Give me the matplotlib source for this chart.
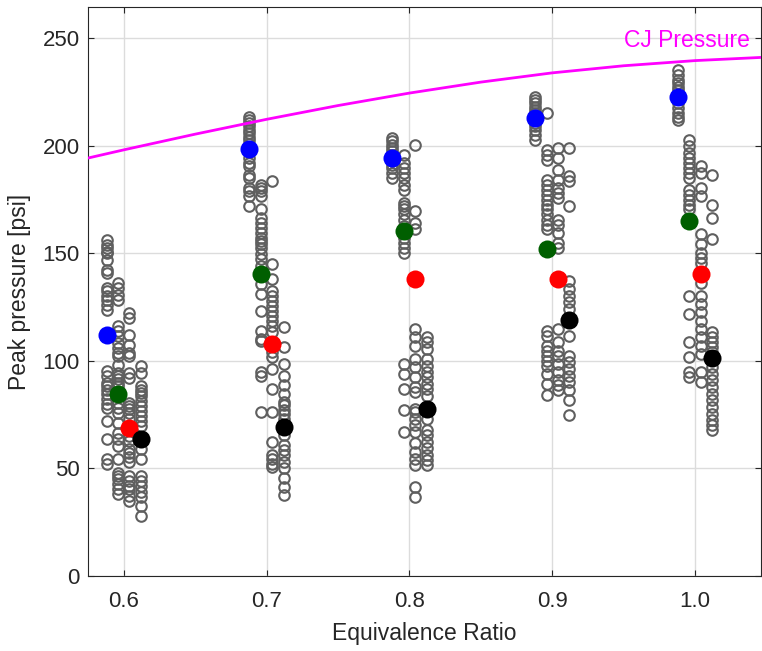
import numpy as np
import matplotlib
matplotlib.use('Agg')
import matplotlib.pyplot as plt

plt.rcParams['font.family'] = ['Liberation Sans', 'DejaVu Sans']

# equivalence ratios tested
phis = [0.6, 0.7, 0.8, 0.9, 1.0]

# peak pressures [psi], one dict per transducer position (columns left->right)
pos1 = {
    0.6: [156.2, 153.9, 152.3, 150.8, 150.0, 146.9, 142.3, 140.7, 133.8, 132.3, 130.0, 128.4, 126.0, 123.8,
          95.2, 92.9, 89.8, 88.3, 86.7, 84.4, 82.1, 79.8, 78.2, 72.1, 63.6, 54.3, 52.0],
    0.7: [213.6, 212.0, 210.5, 209.0, 207.4, 205.9, 204.3, 202.8, 201.0, 199.0, 197.0, 194.3, 192.0, 190.4,
          186.6, 185.0, 180.4, 178.9, 176.5, 172.2],
    0.8: [203.5, 202.0, 200.5, 198.9, 197.4, 195.8, 192.7, 191.2, 189.7, 187.3, 185.0],
    0.9: [222.8, 221.3, 219.8, 218.2, 216.7, 215.1, 210.5, 209.0, 207.4, 205.1, 202.8],
    1.0: [235.2, 232.9, 230.6, 229.0, 227.5, 225.9, 219.8, 217.4, 215.1, 213.6, 212.0],
}
pos2 = {
    0.6: [136.1, 133.8, 130.7, 128.4, 116.0, 113.7, 111.4, 108.3, 106.0, 103.7, 102.2, 98.3, 94.4, 92.9,
          91.4, 89.8, 88.3, 80.6, 78.2, 75.9, 71.3, 66.7, 63.6, 60.5, 54.3, 48.1, 46.6, 45.1, 42.7, 40.4, 38.1],
    0.7: [181.9, 180.4, 178.9, 176.5, 170.4, 166.5, 164.2, 161.9, 159.6, 157.3, 155.7, 154.2, 152.6, 149.5,
          147.2, 144.1, 135.6, 131.0, 123.3, 114.0, 110.2, 109.4, 94.8, 93.2, 76.2],
    0.8: [195.8, 192.0, 189.7, 187.3, 185.0, 181.9, 179.6, 173.5, 171.9, 170.4, 168.1, 165.7, 162.7, 157.3,
          154.9, 152.6, 150.3, 98.6, 94.0, 87.0, 77.0, 67.0],
    0.9: [215.1, 198.1, 195.8, 193.5, 184.3, 181.9, 179.6, 177.3, 175.0, 172.7, 170.4, 168.1, 165.7, 163.4,
          161.1, 114.0, 111.7, 107.1, 104.8, 102.5, 100.0, 97.8, 94.0, 89.4, 84.0],
    1.0: [202.8, 199.7, 196.6, 194.3, 192.0, 189.7, 187.3, 185.0, 179.6, 177.3, 175.0, 172.7, 170.4, 130.2,
          121.8, 108.6, 101.7, 94.8, 92.4],
}
pos3 = {
    0.6: [122.2, 119.9, 112.2, 107.6, 103.7, 102.2, 94.4, 92.1, 80.6, 79.0, 77.5, 75.9, 72.8, 65.1, 62.8,
          58.9, 57.4, 55.1, 52.8, 46.6, 44.3, 42.0, 40.4, 37.3, 35.0],
    0.7: [183.5, 144.9, 138.0, 132.6, 130.2, 127.9, 125.6, 123.3, 121.0, 118.7, 116.4, 113.3, 104.0, 101.7,
          96.3, 87.0, 76.2, 62.3, 56.2, 54.6, 52.3, 50.8],
    0.8: [200.5, 169.6, 164.2, 161.1, 114.8, 111.0, 107.1, 100.9, 97.0, 92.4, 87.8, 85.5, 77.8, 76.2, 73.1,
          70.1, 67.0, 61.6, 57.7, 54.6, 51.5, 41.5, 36.9],
    0.9: [198.9, 194.3, 188.9, 184.3, 180.4, 178.1, 175.8, 165.7, 163.4, 159.6, 154.9, 152.6, 114.8, 108.6,
          104.8, 102.5, 98.6, 94.8, 90.9, 88.6, 86.3],
    1.0: [190.4, 187.3, 180.4, 176.5, 158.8, 154.2, 150.3, 148.0, 145.7, 136.4, 130.2, 126.4, 122.5, 118.7,
          114.8, 110.9, 107.1, 103.2, 94.8, 90.1],
}
pos4 = {
    0.6: [97.5, 94.4, 88.3, 86.7, 85.2, 83.6, 81.3, 79.0, 76.7, 74.4, 72.1, 69.8, 58.9, 54.3, 46.6, 44.3,
          42.0, 38.9, 36.6, 32.7, 28.1],
    0.7: [115.6, 106.3, 98.6, 93.2, 88.6, 84.7, 80.9, 79.3, 77.0, 75.5, 73.1, 65.4, 60.8, 58.5, 56.2, 53.1,
          50.0, 45.4, 41.5, 37.7],
    0.8: [111.0, 108.6, 105.6, 100.9, 97.8, 94.8, 92.4, 89.4, 87.0, 83.9, 73.1, 67.7, 65.4, 62.3, 59.3, 56.2,
          53.9, 51.5],
    0.9: [198.9, 185.8, 183.5, 171.9, 137.2, 133.3, 130.2, 127.2, 124.1, 111.7, 102.5, 99.4, 96.3, 93.2,
          90.1, 86.3, 81.6, 74.7],
    1.0: [186.6, 172.7, 166.5, 156.5, 113.3, 111.0, 108.6, 106.3, 104.0, 97.0, 94.0, 90.9, 87.8, 84.7, 81.6,
          78.5, 75.5, 72.4, 70.1, 67.7],
}

# mean peak pressure per position
mean1 = [112.2, 198.5, 194.3, 212.8, 222.8]
mean2 = [84.4, 140.3, 160.3, 151.9, 165.0]
mean3 = [69.0, 107.9, 138.0, 138.0, 140.3]
mean4 = [63.6, 69.3, 77.8, 119.1, 101.2]

# CJ pressure curve
cj_phi = [0.575, 0.6, 0.65, 0.7, 0.75, 0.8, 0.85, 0.9, 0.95, 1.0, 1.05]
cj_p = [194.3, 198.1, 205.4, 212.3, 218.7, 224.5, 229.6, 233.9, 237.2, 239.6, 241.2]

offsets = [-0.012, -0.004, 0.004, 0.012]
positions = [pos1, pos2, pos3, pos4]
means = [mean1, mean2, mean3, mean4]
colors = ['#0000ff', '#005f00', '#ff0000', '#000000']

fig = plt.figure(figsize=(7.62, 6.51), dpi=100)
ax = fig.add_axes([0.1155, 0.1152, 0.883, 0.874])

for pos, off in zip(positions, offsets):
    for phi in phis:
        y = pos[phi]
        ax.plot(np.full(len(y), phi + off), y, 'o', ms=7.6, mfc='none', mec='#5f5f5f', mew=1.5, zorder=3)

ax.plot(cj_phi, cj_p, color='#ff00ff', lw=2, zorder=4)
ax.text(1.038, 243.5, 'CJ Pressure', color='#ff00ff', fontsize=16.5, ha='right', va='bottom', zorder=5)

for m, off, c in zip(means, offsets, colors):
    ax.plot(np.array(phis) + off, m, 'o', ms=13, color=c, mec='none', zorder=6)

ax.set_xlim(0.575, 1.046)
ax.set_ylim(0, 264.5)
ax.set_xticks(phis)
ax.set_xticklabels(['0.6', '0.7', '0.8', '0.9', '1.0'])
ax.set_yticks([0, 50, 100, 150, 200, 250])
ax.grid(True, color='#dcdcdc', lw=1)
ax.set_axisbelow(True)
ax.tick_params(direction='in', labelsize=16, colors='#262626', top=True, right=True, length=4)
ax.tick_params(axis='x', pad=11)
ax.tick_params(axis='y', pad=6)
for s in ax.spines.values():
    s.set_color('#262626')
ax.set_xlabel('Equivalence Ratio', fontsize=16.5, color='#262626', labelpad=7)
ax.set_ylabel('Peak pressure [psi]', fontsize=16.5, color='#262626')
ax.yaxis.set_label_coords(-0.084, 0.5)

fig.savefig('out.png', dpi=100)
